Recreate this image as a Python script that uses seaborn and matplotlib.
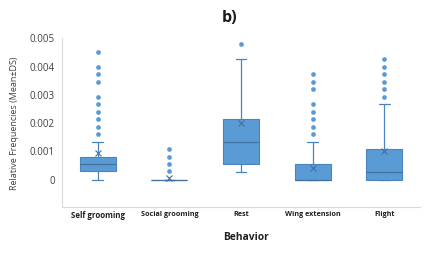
import numpy as np
import pandas as pd
import matplotlib
matplotlib.use("Agg")
import matplotlib.pyplot as plt
import seaborn as sns

# values
behaviors = ["Self grooming", "Social grooming", "Rest", "Wing extension", "Flight"]
q1 = [0.00029, 0.0, 0.00055, 0.0, 0.0]
medians = [0.00055, 0.0, 0.00135, 0.0, 0.00027]
q3 = [0.00082, 0.0, 0.00214, 0.00055, 0.00108]
whisk_lo = [0.0, 0.0, 0.00028, 0.0, 0.0]
whisk_hi = [0.00135, 0.0, 0.00426, 0.00135, 0.00268]
means = [0.00094, 0.00006, 0.00202, 0.00041, 0.00101]
outliers_self = [0.00453, 0.0040, 0.00375, 0.00347, 0.00294, 0.00268, 0.00241, 0.00214, 0.00188, 0.00163]
outliers_social = [0.0011, 0.00082, 0.00055, 0.00029]
outliers_rest = [0.0048]
outliers_wing = [0.00375, 0.00347, 0.0032, 0.00268, 0.00241, 0.00214, 0.00188, 0.00163]
outliers_flight = [0.00427, 0.004, 0.00375, 0.00347, 0.0032, 0.00294]
yticks = [0, 0.001, 0.002, 0.003, 0.004, 0.005]
ytick_labels = ["0", "0.001", "0.002", "0.003", "0.004", "0.005"]

sns.set_style("white")
plt.rcParams["font.family"] = ["Open Sans", "DejaVu Sans"]

fill = "#5b9bd5"
edge = "#4a84c0"

fig = plt.figure(figsize=(4.27, 2.56), dpi=100)
ax = fig.add_axes([0.145, 0.191, 0.839, 0.659])

stats = []
for i, b in enumerate(behaviors):
    stats.append({"label": b, "q1": q1[i], "med": medians[i], "q3": q3[i],
                  "whislo": whisk_lo[i], "whishi": whisk_hi[i], "mean": means[i],
                  "fliers": []})

ax.bxp(stats, positions=range(len(behaviors)), widths=0.5, capwidths=0.15,
       patch_artist=True, showfliers=False, showmeans=True,
       boxprops=dict(facecolor=fill, edgecolor=edge, linewidth=0.8),
       medianprops=dict(color="#41719c", linewidth=0.9),
       whiskerprops=dict(color=edge, linewidth=0.9),
       capprops=dict(color=edge, linewidth=0.9),
       meanprops=dict(marker="x", markeredgecolor="#41719c", markersize=5,
                      markeredgewidth=0.8))

fliers = pd.DataFrame({
    "behavior": ["Self grooming"] * len(outliers_self)
    + ["Social grooming"] * len(outliers_social)
    + ["Rest"] * len(outliers_rest)
    + ["Wing extension"] * len(outliers_wing)
    + ["Flight"] * len(outliers_flight),
    "value": outliers_self + outliers_social + outliers_rest + outliers_wing + outliers_flight,
})
sns.stripplot(data=fliers, x="behavior", y="value", order=behaviors, jitter=False,
              color=fill, size=3.4, linewidth=0, ax=ax, native_scale=False)

ax.set_xlim(-0.5, 4.5)
ax.set_ylim(-0.00097, 0.005)
ax.set_yticks(yticks)
ax.set_yticklabels(ytick_labels, fontsize=7, color="#404040")
ax.set_xticks(range(len(behaviors)))
ax.set_xticklabels(behaviors, fontsize=5.2, fontweight="bold", color="#202020")
ax.get_xticklabels()[0].set_fontsize(5.7)
ax.tick_params(axis="x", length=0, pad=3)
ax.tick_params(axis="y", length=0, pad=5)

ax.set_xlabel("Behavior", fontsize=7.4, fontweight="bold", color="#202020")
ax.xaxis.set_label_coords((246 - 62) / 358, -0.15)
ax.set_ylabel("Relative Frequencies (Mean\u00b1DS)", fontsize=6.5, color="#404040", labelpad=8)

for s in ["top", "right"]:
    ax.spines[s].set_visible(False)
for s in ["left", "bottom"]:
    ax.spines[s].set_color("#d9d9d9")
    ax.spines[s].set_linewidth(0.8)

fig.text(230 / 427, 1 - 18 / 256, "b)", fontsize=11.5, fontweight="bold",
         ha="center", va="center", color="#1a1a1a")

fig.savefig("out.png", dpi=100)
